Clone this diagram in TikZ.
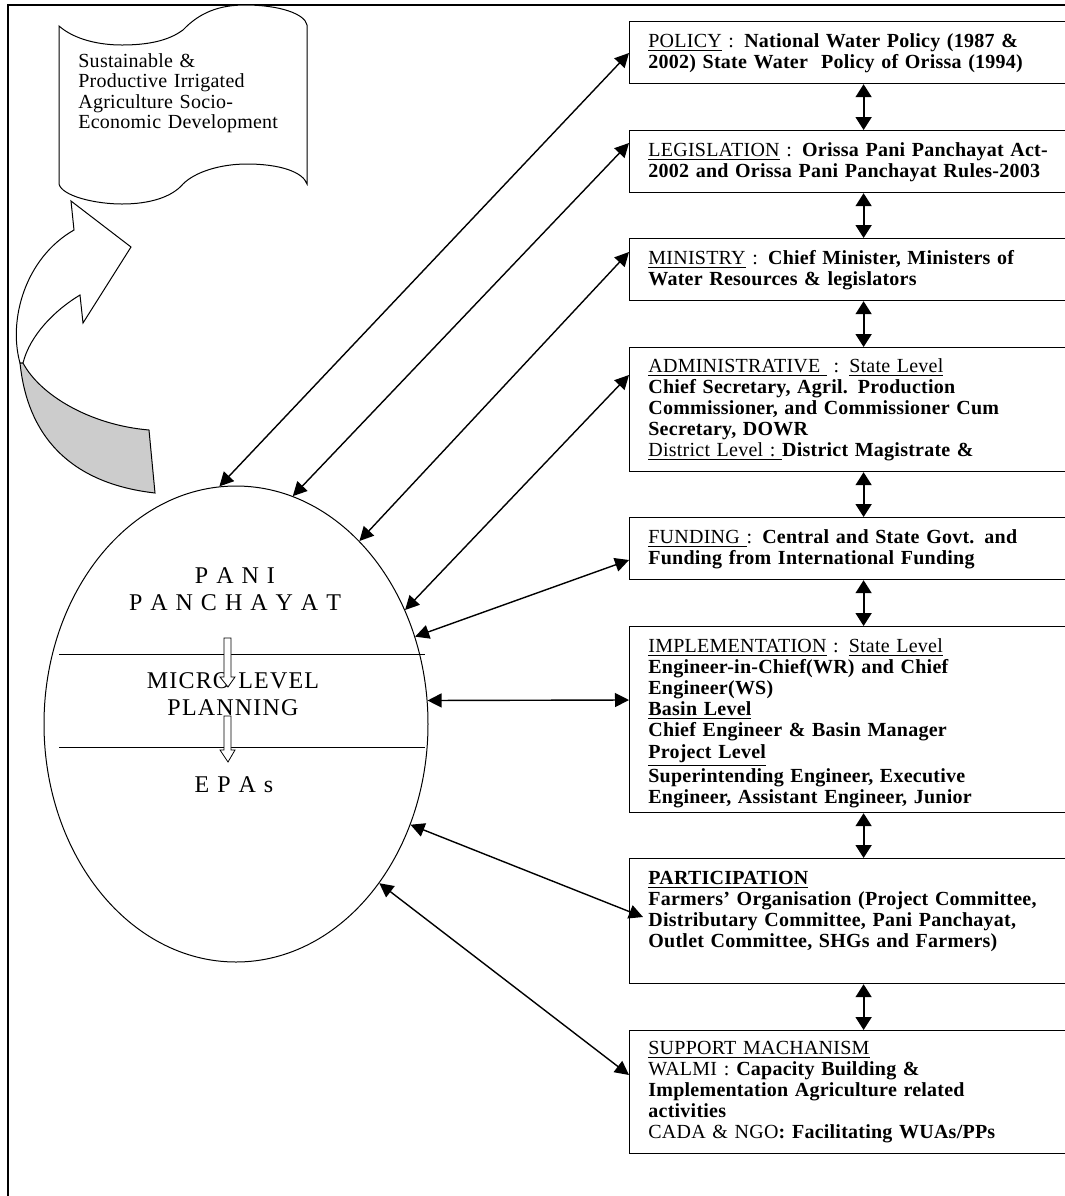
\documentclass[tikz,border=0pt]{standalone}
\usepackage{fontspec}
\setmainfont[LetterSpace=1.2]{Liberation Serif}
\newfontfamily\ovalfont[LetterSpace=5]{Liberation Serif}
\usetikzlibrary{arrows.meta,calc,shapes.geometric}
\definecolor{ribbon}{RGB}{204,204,204}

\begin{document}
\begin{tikzpicture}[x=0.5pt,y=-0.5pt,
  box/.style={draw,line width=0.6pt,anchor=north west,minimum width=234pt,inner sep=0pt},
  boxtxt/.style={anchor=base west,align=left,text width=220pt,inner sep=0pt,font=\fontsize{10}{10.6}\selectfont},
  link/.style={line width=0.7pt,{Triangle[length=7pt,width=7pt]}-{Triangle[length=7pt,width=7pt]}},
  vlink/.style={line width=0.9pt,{Triangle[length=6.5pt,width=8pt]}-{Triangle[length=6.5pt,width=8pt]}},
  ovaltxt/.style={anchor=base,align=center,text width=150pt,inner sep=0pt,font=\ovalfont\fontsize{12}{13.5}\selectfont},
  hollow/.style={draw,fill=white,line width=0.4pt}]
\useasboundingbox (0,0) rectangle (1065,1196);
\clip (0,0) rectangle (1065,1196);
\draw[line width=1.2pt] (8,5) rectangle (1080,1210);

% goal scroll
\draw[line width=0.5pt,fill=white] (59,26) .. controls (75,40) and (100,45) .. (122,45)
  .. controls (155,45) and (172,38) .. (183,30) .. controls (200,12) and (220,5) .. (245,5)
  .. controls (280,5) and (305,14) .. (307,25) -- (307,184)
  .. controls (303,172) and (280,164) .. (247,164) .. controls (220,164) and (195,172) .. (183,184)
  .. controls (172,197) and (150,204) .. (122,204) .. controls (95,204) and (62,196) .. (59,184) -- cycle;
\node[anchor=base west,align=left,text width=110pt,inner sep=0pt,font=\fontsize{10}{10.3}\selectfont] (goal) at (78,67)
  {Sustainable \&\\Productive Irrigated\\Agriculture Socio-\\Economic Development};

% ribbon arrow
\draw[line width=0.5pt,fill=white] (74,230) -- (71,201) -- (131,247) -- (83,323) -- (80,295)
  .. controls (55,310) and (30,335) .. (23,363) -- (20,363) .. controls (8,320) and (25,258) .. (74,230) -- cycle;
\draw[line width=0.5pt,fill=ribbon] (20,363) -- (23,363) .. controls (40,395) and (90,425) .. (149,430)
  -- (155,493) .. controls (40,480) and (24,400) .. (20,363) -- cycle;

% oval
\node[draw,ellipse,line width=0.5pt,minimum width=192pt,minimum height=238pt,inner sep=0pt] (pp) at (236,724) {};
\draw[line width=0.5pt] ($(pp.center)+(-177,-70)$) -- ($(pp.center)+(189,-70)$);
\draw[line width=0.5pt] ($(pp.center)+(-177,23)$) -- ($(pp.center)+(189,23)$);
\node[ovaltxt] (pani) at (235,583) {P A N I\\P A N C H A Y A T};
\node[ovaltxt] (micro) at (233,688) {MICRO LEVEL\\PLANNING};
\node[ovaltxt] (epas) at (234,792) {E P A s};
\draw[hollow] (224,638) -- (231,638) -- (231,677) -- (235,677) -- (228,687) -- (220,677) -- (224,677) -- cycle;
\draw[hollow] (224,716) -- (231,716) -- (231,750) -- (235,750) -- (228,762) -- (220,750) -- (224,750) -- cycle;

% boxes
\node[box,minimum height=31pt] (policy) at (629,21) {};
\node[box,minimum height=31pt] (legis) at (629,130) {};
\node[box,minimum height=31pt] (ministry) at (629,238) {};
\node[box,minimum height=62pt] (admin) at (629,347) {};
\node[box,minimum height=31pt] (funding) at (629,517) {};
\node[box,minimum height=93pt] (impl) at (629,626) {};
\node[box,minimum height=62.5pt] (partic) at (629,858) {};
\node[box,minimum height=61.5pt] (support) at (629,1030) {};

\node[boxtxt] (policy-t) at ($(policy.north west)+(19,26)$)
  {\underline{POLICY} : \textbf{National Water Policy (1987 \&}\\
   \textbf{2002) State Water\ \ Policy of Orissa (1994)}};
\node[boxtxt] (legis-t) at ($(legis.north west)+(19,26)$)
  {\underline{LEGISLATION} : \textbf{Orissa Pani Panchayat Act-}\\
   \textbf{2002 and Orissa Pani Panchayat Rules-2003}};
\node[boxtxt] (ministry-t) at ($(ministry.north west)+(19,26)$)
  {\underline{MINISTRY} : \textbf{Chief Minister, Ministers of}\\
   \textbf{Water Resources \& legislators}};
\node[boxtxt] (admin-t) at ($(admin.north west)+(19,25)$)
  {\underline{ADMINISTRATIVE\ } : \underline{State Level}\\
   \textbf{Chief Secretary, Agril. Production}\\
   \textbf{Commissioner, and Commissioner Cum}\\
   \textbf{Secretary, DOWR}\\
   \underline{District Level :\ }\textbf{District Magistrate \&}};
\node[boxtxt] (funding-t) at ($(funding.north west)+(19,26)$)
  {\underline{FUNDING\ }: \textbf{Central and State Govt. and}\\
   \textbf{Funding from International Funding}};
\node[boxtxt] (impl-t) at ($(impl.north west)+(19,26)$)
  {\underline{IMPLEMENTATION} : \underline{State Level}\\
   \textbf{Engineer-in-Chief(WR) and Chief}\\
   \textbf{Engineer(WS)}\\
   \textbf{\underline{Basin Level}}\\
   \textbf{Chief Engineer \& Basin Manager}\\
   \textbf{\underline{Project Level}}\\
   \textbf{Superintending Engineer, Executive}\\
   \textbf{Engineer, Assistant Engineer, Junior}};
\node[boxtxt] (partic-t) at ($(partic.north west)+(19,26)$)
  {\textbf{\underline{PARTICIPATION}}\\
   \textbf{Farmers’ Organisation (Project Committee,}\\
   \textbf{Distributary Committee, Pani Panchayat,}\\
   \textbf{Outlet Committee, SHGs and Farmers)}};
\node[boxtxt] (support-t) at ($(support.north west)+(19,24)$)
  {\underline{SUPPORT MACHANISM}\\
   WALMI : \textbf{Capacity Building \&}\\
   \textbf{Implementation Agriculture related}\\
   \textbf{activities}\\
   CADA \& NGO\textbf{: Facilitating WUAs/PPs}};

% links
\foreach \a/\b in {policy/legis,legis/ministry,ministry/admin,admin/funding,funding/impl,impl/partic,partic/support}
  \draw[vlink] (\a.south) -- (\b.north);
\foreach \b/\ang/\d in {policy/94/32,legis/76/13,ministry/56/14,admin/34/28,funding/26/43,impl/7/74,support/312/45}
  \draw[link] (pp.\ang) -- ($(\b.north west)+(0,\d)$);
\draw[link] (pp.330) -- ($(partic.north west)+(14,59)$);
\end{tikzpicture}
\end{document}
